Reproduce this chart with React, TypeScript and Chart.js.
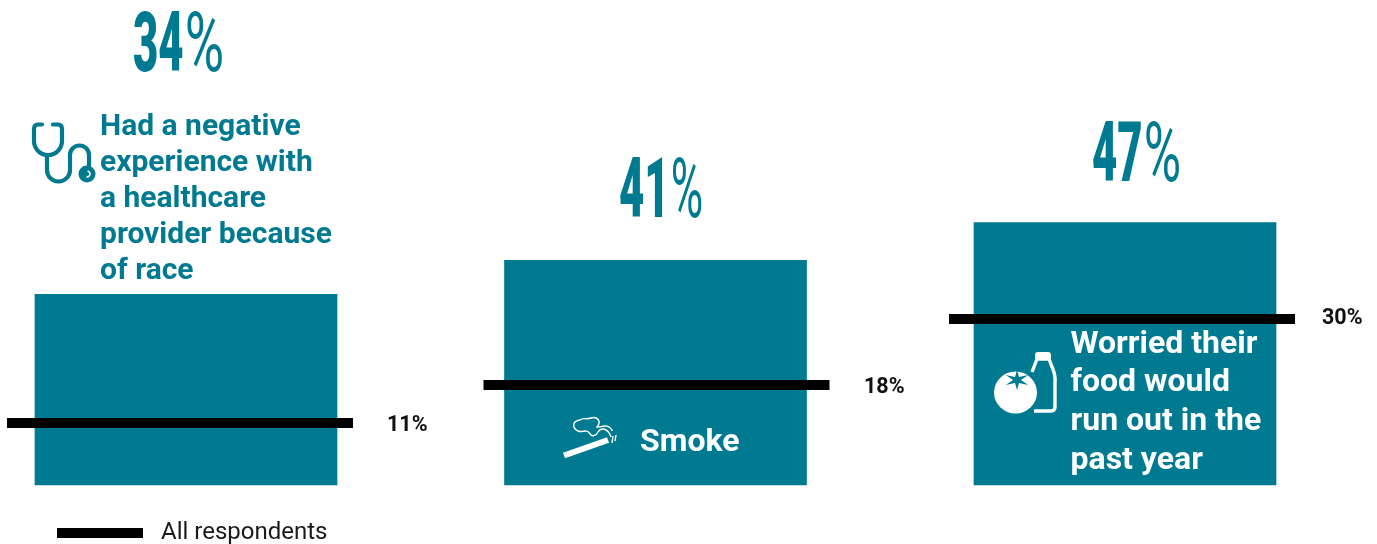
import React, { useEffect, useRef } from "react";
import { Chart, registerables } from "chart.js";

Chart.register(...registerables);

const categories = ["Negative healthcare experience", "Smoke", "Food worry"];
const groupValues = [34.3, 40.4, 47.2];
const allRespondents = [11.1, 17.9, 29.8];
const groupLabels = ["34", "41", "47"];
const allLabels = ["11%", "18%", "30%"];
const legendLabel = "All respondents";
const healthLines = ["Had a negative", "experience with", "a healthcare", "provider because", "of race"];
const smokeLines = ["Smoke"];
const foodLines = ["Worried their", "food would", "run out in the", "past year"];

const TEAL = "#007a91";
const BOLD = "Roboto, sans-serif";

// Marker shapes: a long flat bar, nudged sideways as in the reference.
const lineShift = [-6, 1, -3];
function markerCanvas(shift: number) {
  const c = document.createElement("canvas");
  c.width = 372;
  c.height = 10;
  const g = c.getContext("2d")!;
  g.fillStyle = "#000";
  g.fillRect(186 - 173 + shift, 0, 346, 10);
  return c;
}

function condensed(ctx: CanvasRenderingContext2D, num: string, x: number, right: number, base: number) {
  ctx.save();
  ctx.fillStyle = TEAL;
  ctx.textAlign = "left";
  ctx.textBaseline = "alphabetic";
  ctx.translate(x, base);
  ctx.scale(0.52, 1);
  ctx.font = `900 84px ${BOLD}`;
  ctx.fillText(num, 0, 0);
  const w = ctx.measureText(num).width;
  ctx.restore();
  ctx.save();
  ctx.fillStyle = TEAL;
  ctx.font = `400 84px ${BOLD}`;
  const start = x + w * 0.52 + 1;
  const pw = ctx.measureText("%").width;
  ctx.translate(start, base);
  ctx.scale((right - start) / pw, 1);
  ctx.fillText("%", 0, 0);
  ctx.restore();
}

function lines(ctx: CanvasRenderingContext2D, rows: string[], x: number, base: number, gap: number, font: string, color: string) {
  ctx.save();
  ctx.font = font;
  ctx.fillStyle = color;
  ctx.textAlign = "left";
  ctx.textBaseline = "alphabetic";
  rows.forEach((r, i) => ctx.fillText(r, x, base + i * gap));
  ctx.restore();
}

function stethoscope(ctx: CanvasRenderingContext2D) {
  ctx.save();
  ctx.strokeStyle = TEAL;
  ctx.lineWidth = 4.2;
  ctx.lineCap = "round";
  ctx.beginPath();
  ctx.moveTo(42, 124.5);
  ctx.lineTo(38, 124.5);
  ctx.quadraticCurveTo(34, 124.5, 34, 129);
  ctx.lineTo(34, 141);
  ctx.arc(48, 141, 14, Math.PI, 0, true);
  ctx.lineTo(62, 129);
  ctx.quadraticCurveTo(62, 124.5, 58, 124.5);
  ctx.lineTo(53, 124.5);
  ctx.moveTo(47, 155);
  ctx.lineTo(47, 170);
  ctx.arc(58.5, 170, 11.5, Math.PI, 0, true);
  ctx.lineTo(70, 155);
  ctx.arc(79.5, 155, 9.5, Math.PI, 0, false);
  ctx.lineTo(89, 166);
  ctx.stroke();
  ctx.fillStyle = TEAL;
  ctx.beginPath();
  ctx.arc(87, 174, 8.5, 0, Math.PI * 2);
  ctx.fill();
  ctx.strokeStyle = "#fff";
  ctx.lineWidth = 1.6;
  ctx.beginPath();
  ctx.arc(87, 174, 3, -1.2, 1.6);
  ctx.stroke();
  ctx.restore();
}

function cigarette(ctx: CanvasRenderingContext2D) {
  ctx.save();
  ctx.strokeStyle = "#fff";
  ctx.lineWidth = 6;
  ctx.beginPath();
  ctx.moveTo(564, 455.5);
  ctx.lineTo(608, 440);
  ctx.stroke();
  ctx.lineWidth = 1.4;
  ctx.beginPath();
  ctx.moveTo(612, 443);
  ctx.lineTo(613, 436);
  ctx.moveTo(615, 441);
  ctx.lineTo(616, 435);
  ctx.moveTo(612.5, 431);
  ctx.bezierCurveTo(608, 422, 600, 428, 597, 427);
  ctx.bezierCurveTo(602, 421, 597, 416, 591, 418);
  ctx.bezierCurveTo(585, 420, 584, 417, 580, 420);
  ctx.bezierCurveTo(572, 421, 572, 428, 578, 431);
  ctx.bezierCurveTo(583, 433, 586, 428, 590, 434);
  ctx.bezierCurveTo(592, 437, 596, 436, 598, 432);
  ctx.bezierCurveTo(601, 427, 608, 428, 611, 437);
  ctx.stroke();
  ctx.restore();
}

function foodIcon(ctx: CanvasRenderingContext2D) {
  ctx.save();
  ctx.strokeStyle = "#fff";
  ctx.fillStyle = "#fff";
  ctx.lineWidth = 3.4;
  ctx.lineJoin = "round";
  ctx.beginPath();
  ctx.moveTo(1032, 372);
  ctx.lineTo(1037, 359);
  ctx.lineTo(1049, 359);
  ctx.bezierCurveTo(1053, 370, 1056, 374, 1055, 384);
  ctx.lineTo(1055, 407);
  ctx.quadraticCurveTo(1055, 411, 1051, 411);
  ctx.lineTo(1034, 411);
  ctx.stroke();
  ctx.beginPath();
  ctx.roundRect(1035, 352, 16, 8, 3);
  ctx.fill();
  ctx.beginPath();
  ctx.ellipse(1015.5, 392.5, 21.5, 21, 0, 0, Math.PI * 2);
  ctx.fill();
  ctx.fillStyle = TEAL;
  ctx.beginPath();
  const cx = 1017, cy = 380;
  for (let i = 0; i < 12; i++) {
    const a = (i / 12) * Math.PI * 2 - Math.PI / 2;
    const big = i % 2 === 0;
    const px = cx + Math.cos(a) * (big ? 13 : 4);
    const py = cy + Math.sin(a) * (big ? 10 : 3.4);
    if (i === 0) ctx.moveTo(px, py);
    else ctx.lineTo(px, py);
  }
  ctx.closePath();
  ctx.fill();
  ctx.restore();
}

const decorations = {
  id: "decorations",
  afterDatasetsDraw(chart: any) {
    const ctx: CanvasRenderingContext2D = chart.ctx;
    condensed(ctx, groupLabels[0], 133, 224, 71);
    condensed(ctx, groupLabels[1], 619, 703, 217);
    condensed(ctx, groupLabels[2], 1092, 1181, 181);

    const points = chart.getDatasetMeta(0).data;
    const side = [387, 864, 1322];
    allLabels.forEach((t, i) => {
      ctx.save();
      ctx.font = `700 21.5px ${BOLD}`;
      ctx.fillStyle = "#111";
      ctx.textAlign = "left";
      ctx.textBaseline = "alphabetic";
      ctx.fillText(t, side[i], points[i].y + (i === 2 ? 4.5 : 8));
      ctx.restore();
    });

    lines(ctx, healthLines, 100, 135, 36, `700 30px ${BOLD}`, TEAL);
    lines(ctx, smokeLines, 640, 451, 0, `700 32px ${BOLD}`, "#fff");
    lines(ctx, foodLines, 1070.5, 352.5, 38.8, `700 32px ${BOLD}`, "#fff");
    stethoscope(ctx);
    cigarette(ctx);
    foodIcon(ctx);

    ctx.save();
    ctx.fillStyle = "#000";
    ctx.fillRect(57, 528, 86, 10);
    ctx.font = `400 24px ${BOLD}`;
    ctx.fillStyle = "#1a1a1a";
    ctx.textAlign = "left";
    ctx.textBaseline = "alphabetic";
    ctx.fillText(legendLabel, 161, 538.5);
    ctx.restore();
  },
};

export default function App() {
  const ref = useRef<HTMLCanvasElement>(null);
  useEffect(() => {
    const chart = new Chart(ref.current!, {
      type: "bar",
      data: {
        labels: categories,
        datasets: [
          {
            type: "line",
            label: legendLabel,
            data: allRespondents,
            showLine: false,
            pointStyle: lineShift.map(markerCanvas) as any,
            order: 0,
            clip: false as any,
          },
          {
            type: "bar",
            label: "Group",
            data: groupValues,
            backgroundColor: TEAL,
            barThickness: 302,
            order: 1,
            clip: false as any,
          },
        ],
      },
      options: {
        animation: false,
        responsive: false,
        devicePixelRatio: 1,
        layout: { padding: { left: 186, right: 252, top: 0, bottom: 59 } },
        plugins: { legend: { display: false }, tooltip: { enabled: false } },
        scales: {
          x: { display: false, offset: false },
          y: { display: false, min: 0, max: 86.3 },
        },
      },
      plugins: [decorations],
    } as any);
    return () => chart.destroy();
  }, []);
  return (
    <div style={{ position: "absolute", left: 0, top: 0, width: 1377, height: 544, background: "#fff" }}>
      <canvas ref={ref} width={1377} height={544} style={{ display: "block", width: 1377, height: 544 }} />
    </div>
  );
}
